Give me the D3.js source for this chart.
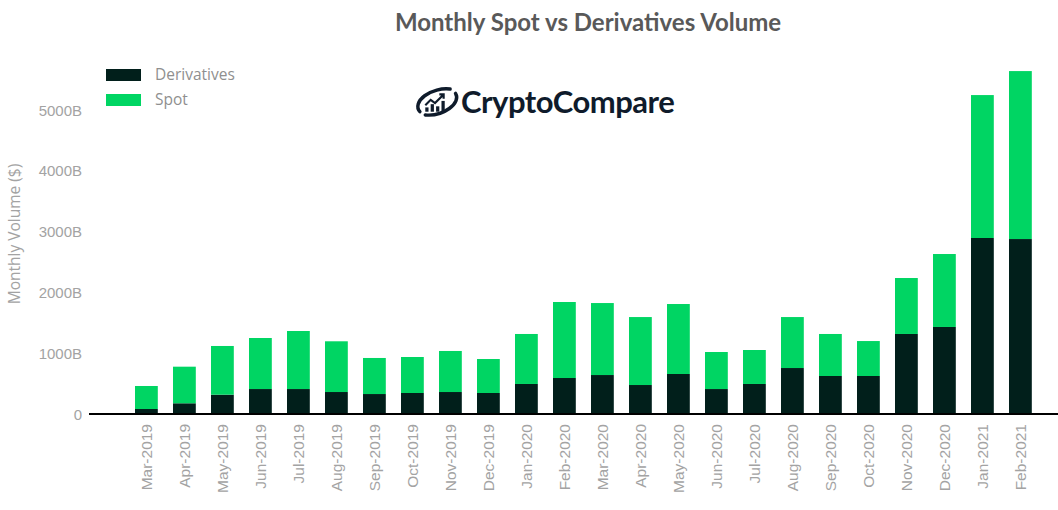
<!DOCTYPE html>
<html>
<head>
<meta charset="utf-8">
<script src="https://cdn.jsdelivr.net/npm/d3@7/dist/d3.min.js"></script>
<style>
  body { margin: 0; background: #fff; }
  svg { display: block; font-family: 'Open Sans', 'Noto Sans', sans-serif; }
  .tick text { fill: #a3a3a3; font-size: 15px; }
</style>
</head>
<body>
<svg id="chart" width="1058" height="510"></svg>
<script>
// data (billions USD)
const months = ['Mar-2019', 'Apr-2019', 'May-2019', 'Jun-2019', 'Jul-2019', 'Aug-2019',
  'Sep-2019', 'Oct-2019', 'Nov-2019', 'Dec-2019', 'Jan-2020', 'Feb-2020', 'Mar-2020',
  'Apr-2020', 'May-2020', 'Jun-2020', 'Jul-2020', 'Aug-2020', 'Sep-2020', 'Oct-2020',
  'Nov-2020', 'Dec-2020', 'Jan-2021', 'Feb-2021'];
const derivatives = [77, 171, 312, 405, 405, 356, 323, 340, 356, 340, 488, 586, 635,
  471, 652, 405, 488, 750, 619, 619, 1309, 1424, 2885, 2868];
const totals = [455, 772, 1112, 1243, 1358, 1189, 915, 931, 1030, 898, 1309, 1834, 1817,
  1587, 1801, 1013, 1046, 1587, 1309, 1193, 2228, 2622, 5232, 5626];
const spot = totals.map((t, i) => t - derivatives[i]);
const yTicks = [0, 1000, 2000, 3000, 4000, 5000];

const colors = { Derivatives: '#011f1b', Spot: '#00d563' };

const svg = d3.select('#chart');

const x = d3.scaleBand()
    .domain(months)
    .range([127.4, 1039.4])
    .paddingInner(0.4)
    .paddingOuter(0.2);

const y = d3.scaleLinear()
    .domain([0, 5000])
    .range([413.7, 109.2]);

// title
svg.append('text')
    .attr('x', 588)
    .attr('y', 31)
    .attr('text-anchor', 'middle')
    .style('font-family', 'Lato, "Open Sans", sans-serif')
    .style('font-weight', 'bold')
    .style('font-size', '24px')
    .style('fill', '#595959')
    .text('Monthly Spot vs Derivatives Volume');

// stacked bars
const table = months.map((m, i) => ({ month: m, Derivatives: derivatives[i], Spot: spot[i] }));
const series = d3.stack().keys(['Derivatives', 'Spot'])(table);

svg.append('g')
  .selectAll('g')
    .data(series)
  .enter().append('g')
    .attr('fill', d => colors[d.key])
  .selectAll('rect')
    .data(d => d)
  .enter().append('rect')
    .attr('x', d => x(d.data.month))
    .attr('width', x.bandwidth())
    .attr('y', d => y(d[1]))
    .attr('height', d => y(d[0]) - y(d[1]));

// y axis
svg.append('g')
    .attr('transform', 'translate(82, 1)')
    .call(d3.axisLeft(y)
      .tickValues(yTicks)
      .tickFormat(d => (d === 0 ? '0' : `${d}B`))
      .tickSize(0)
      .tickPadding(0))
    .call(g => g.select('.domain').remove());

svg.append('text')
    .attr('transform', 'translate(20, 234) rotate(-90)')
    .attr('text-anchor', 'middle')
    .style('font-size', '15.5px')
    .style('fill', '#a3a3a3')
    .text('Monthly Volume ($)');

// x axis
const xAxis = svg.append('g')
    .attr('transform', 'translate(0, 414)')
    .call(d3.axisBottom(x).tickSize(0).tickPadding(0));
xAxis.select('.domain').remove();
xAxis.selectAll('.tick text')
    .style('font-size', '15.5px')
    .attr('transform', 'translate(0, 10) rotate(-90)')
    .attr('text-anchor', 'end')
    .attr('dy', '0.35em')
    .attr('y', 0)
    .attr('x', 0);

svg.append('line')
    .attr('x1', 89)
    .attr('x2', 1058)
    .attr('y1', 414)
    .attr('y2', 414)
    .attr('stroke', '#000')
    .attr('stroke-width', 2);

// legend
const legend = svg.append('g')
  .selectAll('g')
    .data(['Derivatives', 'Spot'])
  .enter().append('g')
    .attr('transform', (d, i) => `translate(106, ${69 + (i * 25)})`);

legend.append('rect')
    .attr('width', 35)
    .attr('height', 12)
    .attr('fill', d => colors[d]);

legend.append('text')
    .attr('x', 49)
    .attr('y', 6)
    .attr('dy', '0.35em')
    .style('font-size', '15.5px')
    .style('fill', '#8f8f8f')
    .text(d => d);

// CryptoCompare logo
const logo = svg.append('g')
    .attr('transform', 'translate(435, 102) scale(1.08)');

logo.append('path')
    .attr('d', 'M -14 9 A 21 12 -15 0 1 14 -12')
    .attr('fill', 'none')
    .attr('stroke', '#0f1b2b')
    .attr('stroke-width', 3.2)
    .attr('stroke-linecap', 'round');
logo.append('path')
    .attr('d', 'M 19 -8 A 21 12 -15 0 1 -9 12')
    .attr('fill', 'none')
    .attr('stroke', '#0f1b2b')
    .attr('stroke-width', 3.2)
    .attr('stroke-linecap', 'round');
logo.append('path')
    .attr('d', 'M -9 3 L -4 -2 L 0 1 L 8 -7 M 4 -7 L 8 -7 L 8 -3')
    .attr('fill', 'none')
    .attr('stroke', '#0f1b2b')
    .attr('stroke-width', 2);
logo.selectAll('rect.bar')
    .data([[-9, 5, 4], [-4, 2, 7], [1, 4, 5], [6, -1, 10]])
  .enter().append('rect')
    .attr('x', d => d[0])
    .attr('y', d => d[1])
    .attr('width', 3)
    .attr('height', d => d[2])
    .attr('fill', '#0f1b2b');

svg.append('text')
    .attr('x', 461)
    .attr('y', 113)
    .style('font-family', 'Lato, "Open Sans", sans-serif')
    .style('font-weight', 'bold')
    .style('font-size', '31px')
    .style('fill', '#0f1b2b')
    .style('letter-spacing', '-0.5px')
    .text('CryptoCompare');
</script>
</body>
</html>
